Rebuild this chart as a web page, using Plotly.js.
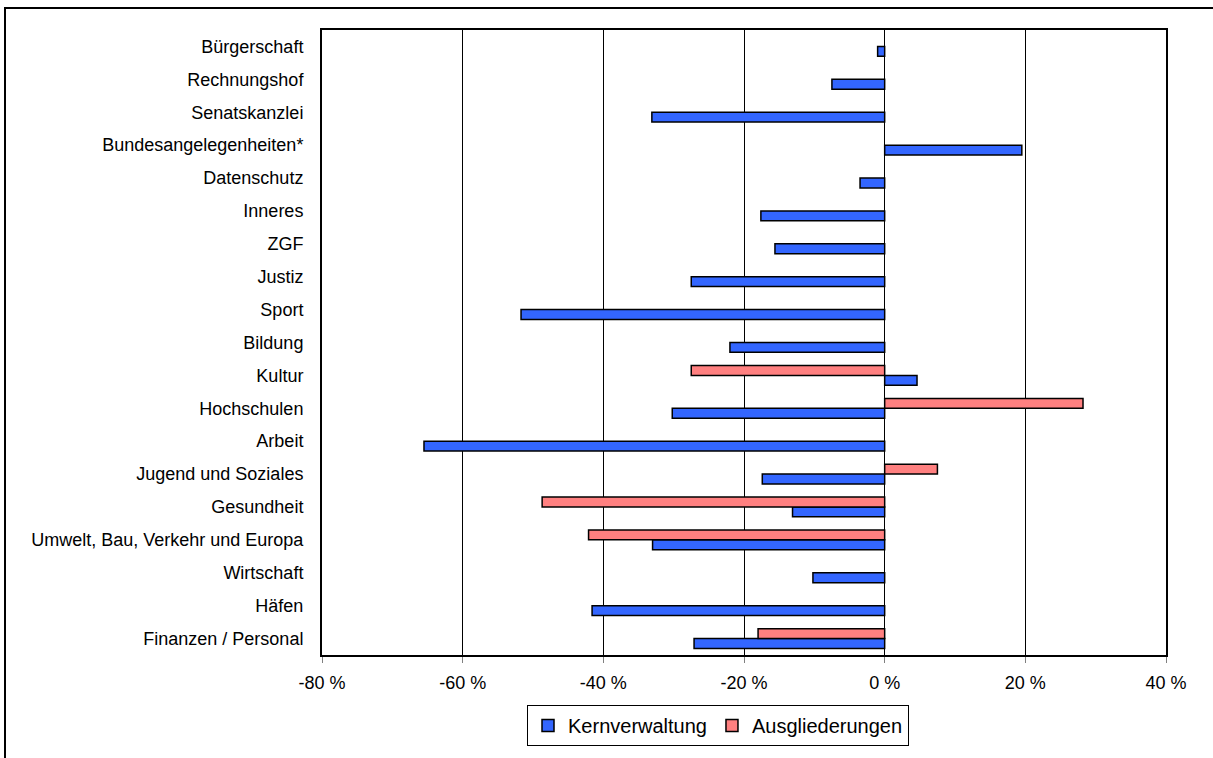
<!DOCTYPE html>
<html>
<head>
<meta charset="utf-8">
<script src="https://cdn.plot.ly/plotly-3.0.1.min.js"></script>
<style>
  html, body { margin: 0; padding: 0; background: #fff; overflow: hidden; }
  #frame { position: absolute; left: 4px; top: 7px; width: 1300px; height: 800px; border: 2px solid #000; }
  #chart { position: absolute; left: 0; top: 0; width: 1213px; height: 758px; }
</style>
</head>
<body>
<div id="frame"></div>
<div id="chart"></div>
<script>
// Categories, listed top to bottom as in the chart
const categories = [
  "Bürgerschaft", "Rechnungshof", "Senatskanzlei", "Bundesangelegenheiten*",
  "Datenschutz", "Inneres", "ZGF", "Justiz", "Sport", "Bildung", "Kultur",
  "Hochschulen", "Arbeit", "Jugend und Soziales", "Gesundheit",
  "Umwelt, Bau, Verkehr und Europa", "Wirtschaft", "Häfen", "Finanzen / Personal"
];
// Percent change, Kernverwaltung
const kernverwaltung = [
  -1.0, -7.5, -33.1, 19.5, -3.5, -17.6, -15.6, -27.5, -51.7, -22.0, 4.6,
  -30.2, -65.5, -17.4, -13.1, -33.0, -10.2, -41.6, -27.1
];
// Percent change, Ausgliederungen
const ausgliederungen = [
  null, null, null, null, null, null, null, null, null, null, -27.5,
  28.2, null, 7.5, -48.7, -42.1, null, null, -18.0
];
const seriesNames = ["Kernverwaltung", "Ausgliederungen"];
const xTickVals = [-80, -60, -40, -20, 0, 20, 40];
const xTickText = ["-80 %", "-60 %", "-40 %", "-20 %", "0 %", "20 %", "40 %"];

const FONT = "Liberation Sans, Arial, sans-serif";
const boundaries = categories.slice(1).map((_, i) => i + 0.5);

const traces = [
  {
    type: "bar", orientation: "h", name: seriesNames[0],
    y: categories, x: kernverwaltung,
    marker: { color: "#3366FF", line: { color: "#000", width: 1.5 } },
    hoverinfo: "x+y"
  },
  {
    type: "bar", orientation: "h", name: seriesNames[1],
    y: categories, x: ausgliederungen,
    marker: { color: "#FF8080", line: { color: "#000", width: 1.5 } },
    hoverinfo: "x+y"
  }
];

const layout = {
  width: 1213, height: 758,
  margin: { l: 322, r: 47, t: 30, b: 91, pad: 0 },
  paper_bgcolor: "rgba(0,0,0,0)",
  plot_bgcolor: "#fff",
  font: { family: FONT, size: 18, color: "#000" },
  barmode: "group", bargap: 0.4, bargroupgap: 0,
  showlegend: true,
  legend: {
    orientation: "h", x: 0.2429, xanchor: "left", y: -0.080, yanchor: "top",
    bordercolor: "#000", borderwidth: 1, bgcolor: "#fff",
    font: { family: FONT, size: 20, color: "#000" },
    traceorder: "normal"
  },
  xaxis: {
    range: [-80, 40], tickvals: xTickVals, ticktext: xTickText,
    showgrid: true, gridcolor: "#000", gridwidth: 1,
    zeroline: false,
    ticks: "outside", ticklen: 6, tickcolor: "#808080", tickwidth: 1,
    ticklabelstandoff: 4,
    showline: true, mirror: true, linecolor: "#000", linewidth: 2,
    tickfont: { family: FONT, size: 18, color: "#000" },
    fixedrange: true
  },
  yaxis: {
    type: "category", categoryorder: "array",
    categoryarray: categories.slice().reverse(),
    range: [-0.5, categories.length - 0.5],
    showgrid: false, zeroline: false, ticks: "",
    showline: true, mirror: true, linecolor: "#000", linewidth: 2,
    ticklabelstandoff: 13,
    tickfont: { family: FONT, size: 18, color: "#000" },
    fixedrange: true
  },
  yaxis2: {
    overlaying: "y", anchor: "free", position: 80 / 120, side: "left",
    range: [-0.5, categories.length - 0.5],
    tickvals: boundaries, ticks: "outside", ticklen: 6, tickcolor: "#000", tickwidth: 1,
    showticklabels: false, showgrid: false, zeroline: false,
    showline: true, linecolor: "#555", linewidth: 1,
    fixedrange: true
  }
};

Plotly.newPlot("chart", traces, layout, { displayModeBar: false, staticPlot: true });
</script>
</body>
</html>
